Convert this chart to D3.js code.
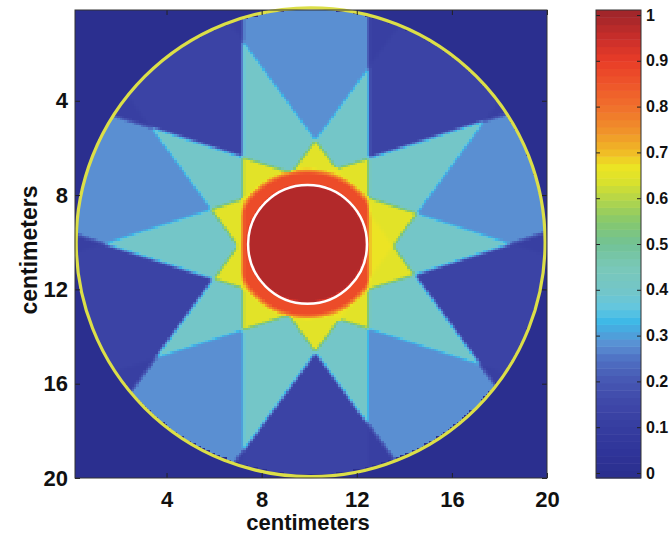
<!DOCTYPE html>
<html>
<head>
<meta charset="utf-8">
<script src="https://cdn.jsdelivr.net/npm/d3@7"></script>
<style>
  body { margin: 0; background: #fff; }
  svg { display: block; }
  text { font-family: "Liberation Sans", Arial, sans-serif; font-weight: bold; fill: #111; }
</style>
</head>
<body>
<div id="chart"></div>
<script>
// Beam arrangement: angle of each beam's entrance side
// (degrees, 0 = right, counter-clockwise), lateral shift of each beam (cm)
const beamAngles = [90, 18, -54, -126, 162];
const beamShifts = [-0.08, 0, -0.21, -0.33, 0];
const beamHalfWidth = 2.65;
const isocenter = [9.95, 10.08];

// contours: cx, cy, r in centimeters
const phantomCircle = [10.06, 10.0, 9.86];
const targetCircle = [9.93, 10.09, 2.5];

// relative dose levels
const outsideDose = 0.0;
const entranceDose = 0.28;
const exitDose = 0.13;
const doseByOverlap = [0.11, null, 0.40, 0.65, 0.67, 0.70]; // index = beams crossing
const targetDose = 0.98;
const ringDose = 0.87;      // margin round the target, inside the first beam
const ringRadius = 3.1;

const axisTicks = [4, 8, 12, 16, 20];
const barTicks = [0, 0.1, 0.2, 0.3, 0.4, 0.5, 0.6, 0.7, 0.8, 0.9, 1];

// jet-like colour map sampled from the colour bar
const cmapStops = [0, 0.05, 0.10, 0.15, 0.20, 0.25, 0.28, 0.31, 0.33, 0.36, 0.40, 0.45,
                   0.50, 0.55, 0.60, 0.64, 0.67, 0.70, 0.75, 0.80, 0.85, 0.90, 0.95, 1];
const cmapColors = ["#2b2f8f", "#30359a", "#363da0", "#3e47a8", "#4656b2", "#4f72c4",
                    "#5a8fd2", "#4aa6de", "#3cb8e8", "#62c6e0", "#74c6c8", "#7ac8b8",
                    "#72c296", "#86c86c", "#b6d648", "#dde22a", "#ece424", "#f0bc26",
                    "#f0902a", "#f0702c", "#ee562a", "#e83c28", "#c92e2a", "#a2262a"];

const W = 672, H = 536;
const plot = { left: 75, right: 547, top: 10, bottom: 478 };
const cellSize = 0.1, ramp = 0.2;

const color = d3.scaleLinear().domain(cmapStops).range(cmapColors)
    .interpolate(d3.interpolateRgb).clamp(true);

const x = d3.scaleLinear().domain([0.15, 20]).range([plot.left, plot.right]);
const y = d3.scaleLinear().domain([0.15, 20]).range([plot.top, plot.bottom]);

const soft = (d, w) => Math.max(0, Math.min(1, d / w + 0.5));

function doseAt(px, py) {
    const ox = px - phantomCircle[0], oy = py - phantomCircle[1];
    if (ox * ox + oy * oy > phantomCircle[2] * phantomCircle[2]) return outsideDose;
    const dx = px - isocenter[0], dy = py - isocenter[1];
    let c = 0, sw = 0;
    const member = beamAngles.map((a, i) => {
        const t = a * Math.PI / 180;
        const along = Math.cos(t) * dx - Math.sin(t) * dy;
        const across = Math.sin(t) * dx + Math.cos(t) * dy - beamShifts[i];
        const m = soft(beamHalfWidth - Math.abs(across), ramp);
        c += m;
        sw += m * (along > 0 ? entranceDose : exitDose);
        return m;
    });
    const lv = doseByOverlap.map((d, k) => k === 1 ? (c > 0 ? sw / c : exitDose) : d);
    const k = Math.min(Math.floor(c), lv.length - 2);
    let v = lv[k] + (c - k) * (lv[k + 1] - lv[k]);

    const rt = Math.hypot(px - targetCircle[0], py - targetCircle[1]);
    const wr = member[0] * soft(ringRadius - rt, 0.25);
    v += wr * Math.max(0, ringDose - v);
    const wt = soft(targetCircle[2] - rt, 0.15);
    v += wt * (targetDose - v);
    return v;
}

const svg = d3.select("#chart").append("svg")
    .attr("width", W).attr("height", H);

// dose map drawn on a canvas, then placed in the svg
const canvas = document.createElement("canvas");
canvas.width = plot.right - plot.left;
canvas.height = plot.bottom - plot.top;
const ctx = canvas.getContext("2d");
const edges = d3.range(0.15, 20.05, cellSize);
edges.forEach(ex => {
    edges.forEach(ey => {
        const x0 = Math.floor(x(ex)) - plot.left, x1 = Math.ceil(x(ex + cellSize)) - plot.left;
        const y0 = Math.floor(y(ey)) - plot.top, y1 = Math.ceil(y(ey + cellSize)) - plot.top;
        ctx.fillStyle = color(doseAt(ex + cellSize / 2, ey + cellSize / 2));
        ctx.fillRect(x0, y0, x1 - x0, y1 - y0);
    });
});
svg.append("image")
    .attr("x", plot.left).attr("y", plot.top)
    .attr("width", canvas.width).attr("height", canvas.height)
    .attr("href", canvas.toDataURL());

// contours
svg.append("circle")
    .attr("cx", x(phantomCircle[0])).attr("cy", y(phantomCircle[1]))
    .attr("r", x(phantomCircle[0] + phantomCircle[2]) - x(phantomCircle[0]))
    .attr("fill", "none").attr("stroke", "#dcdf48").attr("stroke-width", 3.2);
svg.append("circle")
    .attr("cx", x(targetCircle[0])).attr("cy", y(targetCircle[1]))
    .attr("r", x(targetCircle[0] + targetCircle[2]) - x(targetCircle[0]))
    .attr("fill", "none").attr("stroke", "#fff").attr("stroke-width", 2.5);

// axes, ticks pointing inward on all four sides
function styleAxis(g, size) {
    g.select(".domain").remove();
    g.selectAll(".tick line").attr("stroke", "#222");
    g.selectAll("text").style("font-size", size + "px").attr("fill", "#111");
}
svg.append("g").attr("transform", `translate(0,${plot.bottom})`)
    .call(d3.axisBottom(x).tickValues(axisTicks).tickSizeInner(-5).tickSizeOuter(0).tickPadding(13))
    .call(g => styleAxis(g, 22));
svg.append("g").attr("transform", `translate(${plot.left},0)`)
    .call(d3.axisLeft(y).tickValues(axisTicks).tickSizeInner(-5).tickSizeOuter(0).tickPadding(7))
    .call(g => styleAxis(g, 22));
svg.append("g").attr("transform", `translate(0,${plot.top})`)
    .call(d3.axisTop(x).tickValues(axisTicks).tickSizeInner(-5).tickSizeOuter(0).tickFormat(""))
    .call(g => styleAxis(g, 22));
svg.append("g").attr("transform", `translate(${plot.right},0)`)
    .call(d3.axisRight(y).tickValues(axisTicks).tickSizeInner(-5).tickSizeOuter(0).tickFormat(""))
    .call(g => styleAxis(g, 22));

svg.append("rect")
    .attr("x", plot.left).attr("y", plot.top)
    .attr("width", plot.right - plot.left).attr("height", plot.bottom - plot.top)
    .attr("fill", "none").attr("stroke", "#333");

svg.append("text")
    .attr("x", (plot.left + plot.right) / 2 - 3).attr("y", 530)
    .attr("text-anchor", "middle").style("font-size", "22px")
    .text("centimeters");
svg.append("text")
    .attr("transform", `translate(37,${(plot.top + plot.bottom) / 2 + 6}) rotate(-90)`)
    .attr("text-anchor", "middle").style("font-size", "23px")
    .text("centimeters");

// colour bar
const bar = { left: 596, right: 641, top: 10, bottom: 478 };
const cy = d3.scaleLinear().domain([0, 1]).range([473, 15]);
const nBands = 64;
const lo = cy.invert(bar.bottom), hi = cy.invert(bar.top);
const step = (hi - lo) / nBands;
const bands = d3.range(nBands).map(i => lo + step * i);
svg.append("g").selectAll("rect")
    .data(bands)
    .join("rect")
    .attr("x", bar.left)
    .attr("y", d => cy(d + step))
    .attr("width", bar.right - bar.left)
    .attr("height", d => cy(d) - cy(d + step) + 0.5)
    .attr("fill", d => color(d + step / 2));

svg.append("g").attr("transform", `translate(${bar.right},0)`)
    .call(d3.axisRight(cy).tickValues(barTicks).tickSizeInner(-4).tickSizeOuter(0).tickPadding(5)
        .tickFormat(d3.format("~g")))
    .call(g => styleAxis(g, 16));
svg.append("g").attr("transform", `translate(${bar.left},0)`)
    .call(d3.axisLeft(cy).tickValues(barTicks).tickSizeInner(-4).tickSizeOuter(0).tickFormat(""))
    .call(g => styleAxis(g, 16));
svg.append("rect")
    .attr("x", bar.left).attr("y", bar.top)
    .attr("width", bar.right - bar.left).attr("height", bar.bottom - bar.top)
    .attr("fill", "none").attr("stroke", "#333");
</script>
</body>
</html>
